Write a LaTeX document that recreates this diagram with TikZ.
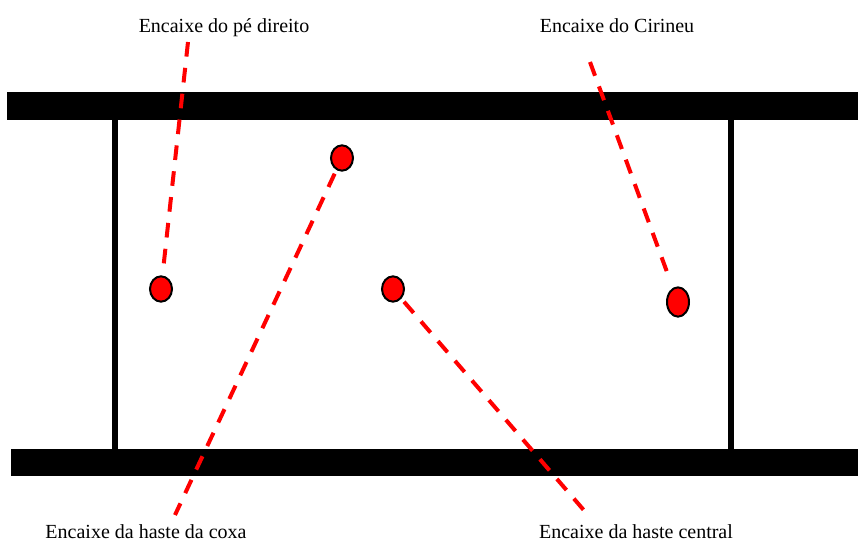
\documentclass[tikz,border=0pt]{standalone}
\usepackage{fontspec}
\setmainfont{Liberation Serif}
\usetikzlibrary{shapes.geometric}
\definecolor{pinred}{HTML}{FF0000}
\tikzset{
  bar/.style     = {fill=black},
  post/.style    = {draw=black, line width=5pt},
  socket/.style  = {ellipse, draw=black, fill=pinred, line width=1.5pt,
                    minimum width=16.5pt, minimum height=19pt, inner sep=0pt},
  leader/.style  = {draw=pinred, line width=3pt, dash pattern=on 11pt off 8.5pt},
  caption/.style = {font=\rmfamily\fontsize{15}{17}\selectfont, anchor=base, inner sep=0pt},
}
\begin{document}
\begin{tikzpicture}[x=0.75pt,y=-0.75pt]
    \useasboundingbox (0,0) rectangle (858,543);
    % frame
    \fill[bar] (7,92) rectangle (858,120);
    \fill[bar] (11,449) rectangle (858,476);
    \draw[post] (115,120) -- (115,449);
    \draw[post] (731,120) -- (731,449);
    % sockets
    \node[socket] (pe) at (161,289) {};
    \node[socket] (coxa) at (342,158) {};
    \node[socket] (central) at (393,289) {};
    \node[socket,minimum height=22pt] (cirineu) at (678,302) {};
    % captions
    \node[caption] (tpe) at (224,32) {Encaixe do pé direito};
    \node[caption] (tcirineu) at (617,32) {Encaixe do Cirineu};
    \node[caption] (tcoxa) at (146,538) {Encaixe da haste da coxa};
    \node[caption] (tcentral) at (636,538) {Encaixe da haste central};
    % leaders
    \coordinate (ape) at (188,42);
    \coordinate (acirineu) at (590,62);
    \coordinate (acoxa) at (175,515);
    \coordinate (acentral) at (588,515);
    \draw[leader,shorten >=8pt] (ape) -- (pe);
    \draw[leader,shorten >=7pt] (acirineu) -- (cirineu);
    \draw[leader,shorten <=3pt] (coxa) -- (acoxa);
    \draw[leader,shorten <=3pt] (central) -- (acentral);
\end{tikzpicture}
\end{document}
